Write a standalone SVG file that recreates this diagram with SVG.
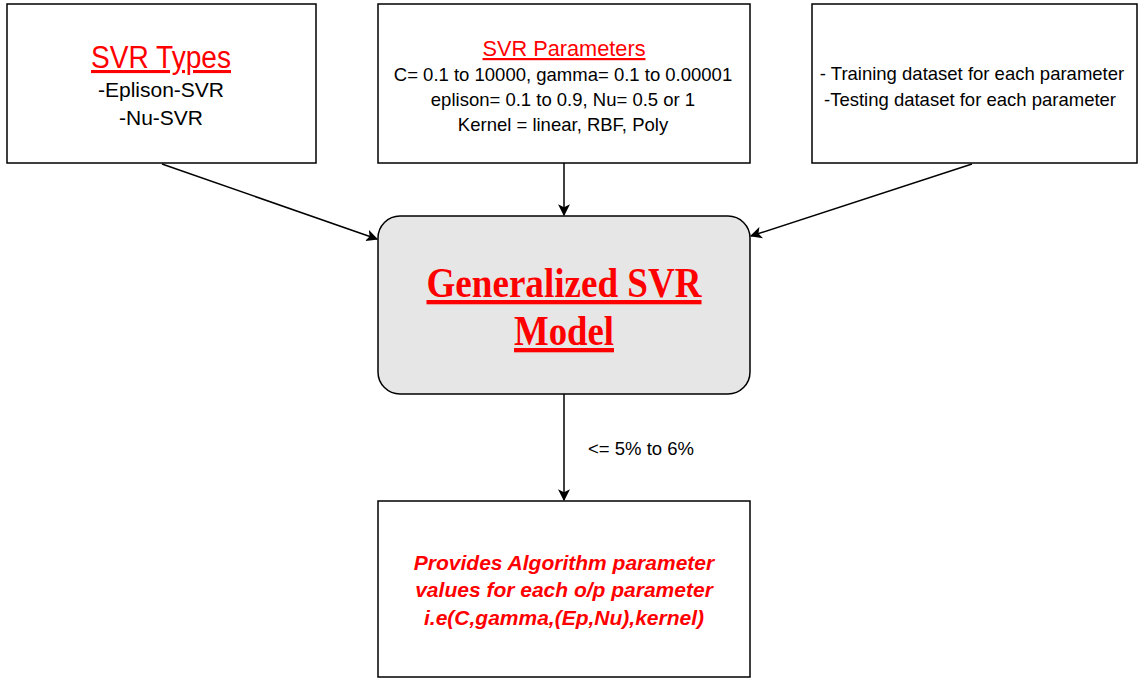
<svg xmlns="http://www.w3.org/2000/svg" width="1140" height="680" viewBox="0 0 1140 680">
<style>
.box{fill:#fff;stroke:#000;stroke-width:1.5}
.sans{font-family:"Liberation Sans",Arial,sans-serif;text-anchor:middle}
.red{fill:#ff0000}
.blk{fill:#000}
.edge{stroke:#000;stroke-width:1.5;fill:none}
.serif{font-family:"Liberation Serif","Times New Roman",serif;font-weight:bold;text-anchor:middle;fill:#ff0000}
</style>
<defs>
<marker id="arr" viewBox="0 0 10 10" refX="9" refY="5" markerWidth="12" markerHeight="12" markerUnits="userSpaceOnUse" orient="auto">
<path d="M0,0 L10,5 L0,10 L2.5,5 Z" fill="#000"/>
</marker>
</defs>
<rect width="1140" height="680" fill="#fff"/>
<g id="connectors">
<line class="edge" x1="162" y1="164" x2="377" y2="239" marker-end="url(#arr)"/>
<line class="edge" x1="564" y1="163" x2="564" y2="215" marker-end="url(#arr)"/>
<line class="edge" x1="972" y1="164" x2="751" y2="236" marker-end="url(#arr)"/>
<line class="edge" x1="564" y1="394" x2="564" y2="500" marker-end="url(#arr)"/>
<text class="sans blk" x="641" y="455" font-size="18.5">&lt;= 5% to 6%</text>
</g>
<g id="svr-types">
<rect class="box" x="7" y="4" width="309" height="159"/>
<text class="sans red" x="161" y="68" font-size="31" textLength="140" lengthAdjust="spacingAndGlyphs" text-decoration="underline">SVR Types</text>
<text class="sans blk" x="161" y="97" font-size="21">-Eplison-SVR</text>
<text class="sans blk" x="161" y="125" font-size="21">-Nu-SVR</text>
</g>
<g id="svr-params">
<rect class="box" x="378" y="4" width="372" height="159"/>
<text class="sans red" x="564" y="56" font-size="22" textLength="163" lengthAdjust="spacingAndGlyphs" text-decoration="underline">SVR Parameters</text>
<text class="sans blk" x="563" y="81" font-size="18.5">C= 0.1 to 10000, gamma= 0.1 to 0.00001</text>
<text class="sans blk" x="563" y="106" font-size="18.5">eplison= 0.1 to 0.9, Nu= 0.5 or 1</text>
<text class="sans blk" x="563" y="131" font-size="18.5">Kernel = linear, RBF, Poly</text>
</g>
<g id="datasets">
<rect class="box" x="812" y="4" width="325" height="159"/>
<text class="sans blk" x="972" y="80" font-size="18.5">- Training dataset for each parameter</text>
<text class="sans blk" x="970" y="106" font-size="18.5">-Testing dataset for each parameter</text>
</g>
<g id="model">
<rect x="378" y="216" width="372" height="178" rx="22" ry="22" fill="#e6e6e6" stroke="#000" stroke-width="1.5"/>
<text class="serif" x="564" y="297" font-size="43" textLength="275" lengthAdjust="spacingAndGlyphs" text-decoration="underline">Generalized SVR</text>
<text class="serif" x="564" y="345" font-size="43" textLength="100" lengthAdjust="spacingAndGlyphs" text-decoration="underline">Model</text>
</g>
<g id="output">
<rect class="box" x="378" y="501" width="372" height="176"/>
<text class="sans red" x="564" y="570" font-size="21" font-weight="bold" font-style="italic">Provides Algorithm parameter</text>
<text class="sans red" x="564" y="597" font-size="21" font-weight="bold" font-style="italic">values for each o/p parameter </text>
<text class="sans red" x="564" y="625" font-size="21" font-weight="bold" font-style="italic">i.e(C,gamma,(Ep,Nu),kernel)</text>
</g>
</svg>
